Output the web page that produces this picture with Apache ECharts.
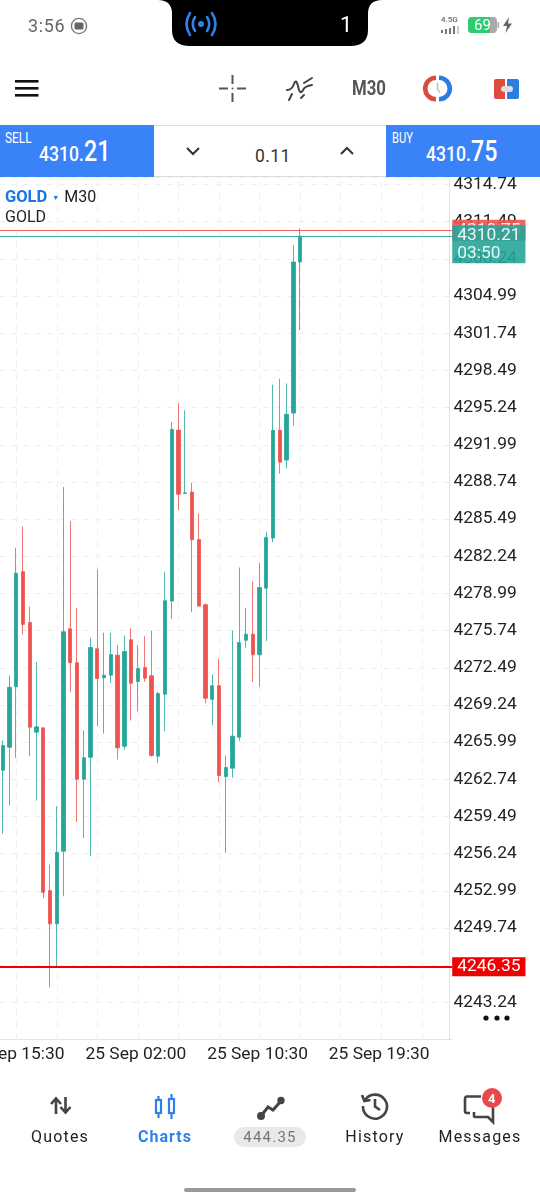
<!DOCTYPE html>
<html>
<head>
<meta charset="utf-8">
<script src="https://cdn.jsdelivr.net/npm/echarts@6/dist/echarts.min.js"></script>
<style>
  html, body { margin: 0; padding: 0; background: #fff; }
  #page { position: relative; width: 540px; height: 1200px; overflow: hidden; font-family: Roboto, sans-serif; }
  #chart { position: absolute; left: 0; top: 0; width: 540px; height: 1200px; }
  .t { position: absolute; white-space: nowrap; line-height: 1; }
  svg { position: absolute; overflow: visible; }
  .tab { position: absolute; top: 1129px; width: 110px; text-align: center; font: 16px Roboto, sans-serif; letter-spacing: 1.2px; color: #222; line-height: 1; }
  .trade { position: absolute; top: 125px; height: 52px; background: #3a82f7; color: #fff; }
  .narrow { transform-origin: left top; }
</style>
</head>
<body>
<div id="page">
  <div id="chart"></div>

  <!-- status bar -->
  <div class="t" style="left:28px;top:17px;font-size:18px;letter-spacing:.6px;color:#666">3:56</div>
  <svg style="left:70px;top:17px" width="18" height="18"><circle cx="9" cy="9" r="7.6" fill="none" stroke="#777" stroke-width="1.4"/><rect x="4.5" y="5.5" width="9" height="7" rx="1.5" fill="#666"/></svg>
  <svg style="left:150px;top:0" width="240" height="48"><path d="M8 0 Q22 0 22 14 V30 Q22 46 40 46 H200 Q218 46 218 30 V14 Q218 0 232 0 Z" fill="#000"/></svg>
  <svg style="left:184px;top:11px" width="34" height="26" fill="none" stroke="#2f80ed" stroke-width="2.6" stroke-linecap="round"><circle cx="17" cy="13" r="3" fill="#2f80ed" stroke="none"/><path d="M11 6 Q6.5 13 11 20 M23 6 Q27.5 13 23 20 M6 2 Q-1 13 6 24 M28 2 Q35 13 28 24"/></svg>
  <div class="t" style="left:340px;top:14px;font-size:22px;color:#fff">1</div>
  <div class="t" style="left:441px;top:16px;font-size:8px;color:#666;font-weight:500">4.5G</div>
  <svg style="left:441px;top:26px" width="20" height="9" fill="#777"><rect x="0" y="4" width="2" height="3"/><rect x="4" y="3" width="2" height="5"/><rect x="8" y="2" width="2" height="6"/><rect x="12" y="0" width="2" height="8"/><rect x="16" y="0" width="2" height="8" fill="#ccc"/></svg>
  <svg style="left:468px;top:17px" width="32" height="18"><rect x="0" y="0" width="29" height="16" rx="4" fill="#aaa"/><path d="M4 0 H22 V16 H4 Q0 16 0 12 V4 Q0 0 4 0Z" fill="#2ecc71"/><rect x="29.5" y="5" width="1.6" height="6" fill="#aaa"/></svg>
  <div class="t" style="left:474px;top:18px;font-size:15px;color:#fff">69</div>
  <svg style="left:502px;top:17px" width="11" height="17"><path d="M7 0 L1 9 H5 L3.5 16 L10 6.5 H6 Z" fill="#666"/></svg>

  <!-- toolbar -->
  <svg style="left:15px;top:80px" width="24" height="18" fill="#111"><rect y="0" width="23.5" height="2.6"/><rect y="7" width="23.5" height="2.6"/><rect y="14" width="23.5" height="2.6"/></svg>
  <svg style="left:219px;top:75px" width="27" height="27" stroke="#555" stroke-width="2"><path d="M13.5 0 V9 M13.5 18 V27 M0 13.5 H9 M18 13.5 H27"/><circle cx="13.5" cy="13.5" r="1" fill="#555" stroke="none"/></svg>
  <svg style="left:286px;top:76px" width="28" height="26" fill="none" stroke="#444" stroke-width="2" stroke-linecap="round"><path d="M1 14 Q6 14 8 8 Q10 2 12 10 Q14 20 17 14 Q19 10 26 9"/><path d="M3 24 L6 18 M18 7 L26 2 M15 22 L18 19"/></svg>
  <div class="t narrow" style="left:352px;top:78px;font-size:20px;font-weight:700;color:#555;transform:scaleX(.84)">M30</div>
  <svg style="left:424px;top:75px" width="27" height="27" fill="none" stroke-width="4.6"><path d="M12 2.7 A10.8 10.8 0 0 0 12 24.3" stroke="#dc4c3e"/><path d="M15 2.7 A10.8 10.8 0 0 1 15 24.3" stroke="#2a7de1"/><path d="M13.5 8 V14 L16 18" stroke="#bbb" stroke-width="1.4"/></svg>
  <svg style="left:493px;top:76px" width="27" height="26"><path d="M3 3 H12 V23 H3 Q1 23 1 21 V5 Q1 3 3 3Z" fill="#dc4c3e"/><path d="M14 3 H24 Q26 3 26 5 V21 Q26 23 24 23 H14 Z" fill="#2a7de1"/><rect x="8" y="10" width="12" height="6" rx="3" fill="#ddd"/></svg>

  <!-- trade panel -->
  <div style="position:absolute;left:154px;top:125px;width:232px;height:52px;border-top:1px solid #ddd;border-bottom:1px solid #ddd;box-sizing:border-box;background:#fff"></div>
  <div class="trade" style="left:0;width:154px"></div>
  <div class="trade" style="left:386px;width:154px"></div>
  <div class="t narrow" style="left:5px;top:131px;font-size:14px;color:#fff;transform:scaleX(.85)">SELL</div>
  <div class="t narrow" style="left:39px;top:144px;font-size:20px;font-weight:500;color:#fff;transform:scaleX(.88)">4310.</div>
  <div class="t narrow" style="left:84px;top:137px;font-size:29px;font-weight:500;color:#fff;transform:scaleX(.8)">21</div>
  <div class="t narrow" style="left:392px;top:131px;font-size:14px;color:#fff;transform:scaleX(.8)">BUY</div>
  <div class="t narrow" style="left:426px;top:144px;font-size:20px;font-weight:500;color:#fff;transform:scaleX(.88)">4310.</div>
  <div class="t narrow" style="left:471px;top:137px;font-size:29px;font-weight:500;color:#fff;transform:scaleX(.8)">75</div>
  <svg style="left:186px;top:146px" width="15" height="10" fill="none" stroke="#333" stroke-width="2"><path d="M1 2 L7 8 L13 2"/></svg>
  <svg style="left:340px;top:146px" width="15" height="10" fill="none" stroke="#333" stroke-width="2"><path d="M1 8 L7 2 L13 8"/></svg>
  <div class="t" style="left:255px;top:148px;font-size:17.5px;letter-spacing:.4px;color:#333">0.11</div>

  <!-- three dots -->
  <svg style="left:482px;top:1014px" width="30" height="8" fill="#111"><circle cx="4" cy="4" r="2.6"/><circle cx="15" cy="4" r="2.6"/><circle cx="25" cy="4" r="2.6"/></svg>

  <!-- tab bar -->
  <svg style="left:50px;top:1095px" width="22" height="22" fill="none" stroke="#444" stroke-width="2.6"><path d="M6 19 V4 M1 9 L6 3.5 L11 9"/><path d="M15.5 2 V17 M10.5 12 L15.5 17.5 L20.5 12"/></svg>
  <svg style="left:154px;top:1094px" width="24" height="26" fill="none" stroke="#2f80ed" stroke-width="2.2"><rect x="2" y="6" width="5" height="13"/><path d="M4.5 2 V6 M4.5 19 V24"/><rect x="15" y="5" width="5" height="14"/><path d="M17.5 0 V5 M17.5 19 V25"/></svg>
  <svg style="left:257px;top:1096px" width="28" height="24" fill="#444" stroke="#444" stroke-width="3"><path d="M4 20 L11 11 L16 14 L24 5" fill="none"/><circle cx="4" cy="20" r="2.5"/><circle cx="24" cy="4.5" r="2.2"/></svg>
  <svg style="left:361px;top:1092px" width="28" height="28" fill="none" stroke="#444" stroke-width="2.6"><path d="M4 8 A12 12 0 1 1 2 14"/><path d="M1 3 L3.4 9 L9.5 8" /><path d="M14 7 V14.5 L19 18"/></svg>
  <svg style="left:464px;top:1095px" width="33" height="28" fill="none" stroke="#444" stroke-width="2.6"><path d="M17 1.5 H3 Q1 1.5 1 4 V16 Q1 18 3 18 H6 M10 17 V21 Q10 22 12 22 H24 L29 27 V12 Q29 9 26 9"/></svg>
  <svg style="left:482px;top:1088px" width="20" height="20"><circle cx="10" cy="10" r="10" fill="#e8474c"/></svg>
  <div class="t" style="left:488px;top:1092px;font-size:13px;font-weight:700;color:#fff">4</div>
  <div class="tab" style="left:5px">Quotes</div>
  <div class="tab" style="left:110px;color:#2f80ed;font-weight:700;letter-spacing:1px">Charts</div>
  <div style="position:absolute;left:234px;top:1127px;width:72px;height:20px;border-radius:10px;background:#e9e9e9"></div>
  <div class="tab" style="left:215px;top:1130px;font-size:15px;color:#777">444.35</div>
  <div class="tab" style="left:320px">History</div>
  <div class="tab" style="left:425px">Messages</div>
  <div style="position:absolute;left:184px;top:1188px;width:172px;height:4px;border-radius:2px;background:#999"></div>
</div>

<script>
// candles, oldest first
const opens = [4263.53, 4265.54, 4270.83, 4280.89, 4276.45, 4266.86, 4267.24, 4253.01, 4250.10, 4256.45,
  4275.90, 4272.93, 4262.75, 4264.67, 4274.15, 4271.62, 4271.84, 4273.59, 4265.63, 4274.94,
  4271.29, 4272.52, 4271.79, 4264.76, 4270.18, 4278.32, 4293.27, 4287.74, 4287.85, 4283.71,
  4278.00, 4269.72, 4270.92, 4262.98, 4263.71, 4266.42, 4274.90, 4275.43, 4273.63, 4279.45,
  4283.83, 4293.25, 4290.65, 4294.76, 4307.97];
const closes = [4265.69, 4270.79, 4280.76, 4276.28, 4267.29, 4267.33, 4252.86, 4250.10, 4256.36, 4275.64,
  4272.93, 4262.75, 4264.62, 4274.27, 4271.55, 4271.84, 4273.65, 4265.49, 4273.92, 4271.14,
  4272.43, 4271.58, 4264.82, 4270.24, 4278.35, 4293.33, 4287.67, 4287.80, 4283.69, 4277.88,
  4269.83, 4270.92, 4263.07, 4263.77, 4266.51, 4274.70, 4275.43, 4273.63, 4279.51, 4283.89,
  4293.25, 4290.47, 4294.65, 4307.97, 4310.21];
const lows = [4257.97, 4260.45, 4264.62, 4275.40, 4264.76, 4260.88, 4252.34, 4244.55, 4246.39, 4252.51,
  4270.36, 4259.02, 4257.62, 4256.01, 4267.38, 4266.74, 4271.18, 4264.47, 4265.32, 4267.88,
  4268.67, 4271.27, 4264.71, 4264.18, 4266.94, 4276.78, 4286.28, 4287.74, 4277.35, 4277.88,
  4269.37, 4267.47, 4262.48, 4256.31, 4262.87, 4266.10, 4274.24, 4271.27, 4270.83, 4274.82,
  4283.48, 4289.46, 4289.92, 4293.66, 4302.02];
const highs = [4266.13, 4271.82, 4282.99, 4284.85, 4277.83, 4272.98, 4267.24, 4255.28, 4260.38, 4288.29,
  4285.31, 4277.74, 4267.01, 4275.11, 4281.09, 4275.55, 4275.55, 4274.47, 4275.32, 4275.95,
  4274.47, 4275.25, 4275.75, 4270.39, 4280.89, 4293.97, 4295.61, 4295.00, 4288.67, 4285.99,
  4278.11, 4271.90, 4273.30, 4264.82, 4275.75, 4281.26, 4277.74, 4280.04, 4281.67, 4284.39,
  4297.24, 4297.77, 4297.36, 4309.43, 4310.91];

// time axis: empty slots continue to the right of the last candle
const slotCount = 67;
const labelSlots = [2, 20, 38, 56];
const labelTexts = ['24 Sep 15:30', '25 Sep 02:00', '25 Sep 10:30', '25 Sep 19:30'];
const gridSlots = [2, 8, 14, 20, 26, 32, 38, 44, 50, 56, 62];

const askPrice = 4310.75;
const bidPrice = 4310.21;
const barTimer = '03:50';
const stopPrice = 4246.35;

const GREEN = '#26a69a';
const RED = '#ef5350';
const AXIS_FONT = { fontFamily: 'Roboto', fontSize: 17.4 };

const categories = Array.from({ length: slotCount }, (_, i) => String(i));
const candles = opens.map((o, i) => [o, closes[i], lows[i], highs[i]]);

const chart = echarts.init(document.getElementById('chart'));

chart.setOption({
  animation: false,
  backgroundColor: 'transparent',
  title: {
    left: 5, top: 188, padding: 0, itemGap: 0,
    text: '{gold|GOLD} {arrow|▼} {tf|M30}\n{name|GOLD}',
    textStyle: {
      rich: {
        gold: { color: '#1a73e8', fontFamily: 'Roboto', fontWeight: 'bold', fontSize: 16.5, lineHeight: 20 },
        arrow: { color: '#1a73e8', fontSize: 7, lineHeight: 20 },
        tf: { color: '#222', fontFamily: 'Roboto', fontWeight: 'normal', fontSize: 16, lineHeight: 20 },
        name: { color: '#222', fontFamily: 'Roboto', fontWeight: 'normal', fontSize: 16, lineHeight: 20 }
      }
    }
  },
  // labels may run off the left edge, as on the phone
  grid: { left: -0.68, top: 177, width: 452.9, height: 862.5, outerBoundsMode: 'none', containLabel: false },
  xAxis: {
    type: 'category',
    data: categories,
    boundaryGap: true,
    axisLine: { lineStyle: { color: '#e2e2e2', width: 1 } },
    axisTick: { show: false },
    splitLine: { show: false },
    axisLabel: {
      ...AXIS_FONT,
      color: '#222',
      margin: 7,
      padding: [0, 4, 0, 0],
      hideOverlap: false,
      interval: i => labelSlots.includes(i),
      formatter: (v, i) => labelTexts[labelSlots.indexOf(i)] || ''
    }
  },
  yAxis: {
    type: 'value',
    position: 'right',
    offset: -2.7,
    min: 4239.99,
    max: 4315.4,
    interval: 3.25,
    scale: true,
    axisLine: { show: true, lineStyle: { color: '#e2e2e2', width: 1 } },
    axisTick: { show: false },
    splitLine: { show: true, lineStyle: { color: '#efefef', type: [6, 6], width: 1 } },
    axisLabel: {
      ...AXIS_FONT,
      color: '#222',
      margin: 4,
      padding: [5, 0, 0, 0],
      showMinLabel: false,
      showMaxLabel: false,
      formatter: v => v.toFixed(2)
    }
  },
  series: [
    {
      // vertical dashed grid, centred on the candle of each slot
      type: 'line',
      data: [],
      silent: true,
      z: 1,
      markLine: {
        silent: true,
        symbol: 'none',
        label: { show: false },
        lineStyle: { color: '#efefef', type: [6, 6], width: 1 },
        z: 1,
        data: gridSlots.map(s => ({ xAxis: categories[s] }))
      }
    },
    {
      type: 'candlestick',
      data: candles,
      barWidth: 3.8,
      itemStyle: { color: GREEN, color0: RED, borderColor: GREEN, borderColor0: RED, borderWidth: 0.8 },
      markLine: {
        silent: true,
        symbol: 'none',
        animation: false,
        precision: 2,
        data: [
          {
            yAxis: askPrice,
            lineStyle: { color: RED, width: 1, type: 'solid', opacity: 0.9 },
            label: {
              position: 'end', distance: 0, formatter: askPrice.toFixed(2), color: '#fff',
              backgroundColor: RED, padding: [2, 5], ...AXIS_FONT
            }
          },
          {
            yAxis: bidPrice,
            lineStyle: { color: GREEN, width: 1, type: 'solid', opacity: 0.9 },
            label: {
              position: 'end', distance: 0, offset: [0, 8], formatter: bidPrice.toFixed(2) + '\n' + barTimer,
              color: '#fff', backgroundColor: GREEN, padding: [1, 5], lineHeight: 18, ...AXIS_FONT
            }
          },
          {
            yAxis: stopPrice,
            lineStyle: { color: '#f00000', width: 2, type: 'solid' },
            label: {
              position: 'end', distance: 0, formatter: stopPrice.toFixed(2), color: '#fff',
              backgroundColor: '#f00000', padding: [1, 5], ...AXIS_FONT
            }
          }
        ]
      }
    }
  ]
});
</script>
</body>
</html>
